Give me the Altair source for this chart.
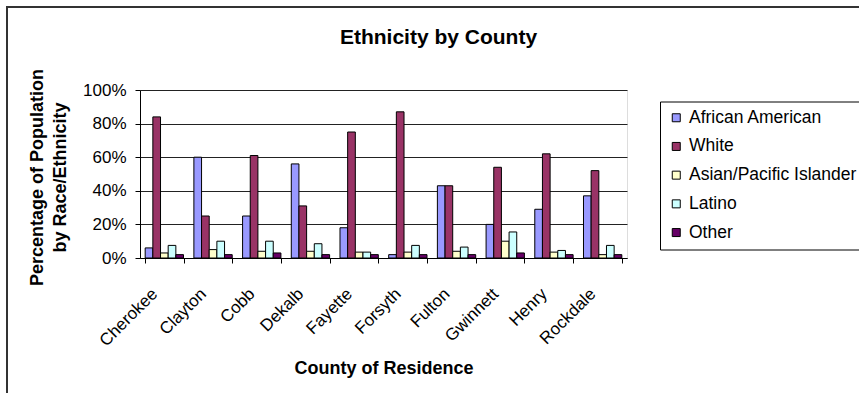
import altair as alt
import pandas as pd

counties = ["Cherokee", "Clayton", "Cobb", "Dekalb", "Fayette",
            "Forsyth", "Fulton", "Gwinnett", "Henry", "Rockdale"]
groups = ["African American", "White", "Asian/Pacific Islander", "Latino", "Other"]
colors = ["#9999FF", "#993366", "#FFFFCC", "#CCFFFF", "#660066"]

# Percent of residents in each group, one list per group (same order as counties)
african_american = [6, 60, 25, 56, 18, 2, 43, 20, 29, 37]
white = [84, 25, 61, 31, 75, 87, 43, 54, 62, 52]
asian_pacific = [3, 5, 4, 4, 3.5, 3.5, 4, 10, 3.5, 2]
latino = [7.5, 10, 10, 8.5, 3.5, 7.5, 6.5, 15.5, 4.5, 7.5]
other = [2, 2, 3, 2, 2, 2, 2, 3, 2, 2]

series = [african_american, white, asian_pacific, latino, other]
rows = []
for g, vals in zip(groups, series):
    for c, v in zip(counties, vals):
        rows.append({"County": c, "Group": g, "Share": v})
df = pd.DataFrame(rows)

FONT = "Liberation Sans"
W, H = 487, 168

bars = alt.Chart(df).mark_bar(stroke="black", strokeWidth=1).encode(
    x=alt.X(
        "County:N",
        sort=counties,
        scale=alt.Scale(paddingInner=0.213, paddingOuter=0.1065),
        axis=alt.Axis(
            title="County of Residence",
            titleFont=FONT, titleFontSize=18, titleFontWeight="bold", titleColor="black",
            titleX=W / 2, titleY=115, titleBaseline="alphabetic", titleAlign="center",
            labelFont=FONT, labelFontSize=17, labelColor="black",
            labelAngle=-45, labelAlign="right", labelBaseline="middle",
            labelPadding=28, labelOffset=-10,
            domainColor="black", tickColor="black", tickSize=5,
            tickBand="extent",
        ),
    ),
    xOffset=alt.XOffset("Group:N", sort=groups,
                        scale=alt.Scale(paddingInner=0, paddingOuter=0)),
    y=alt.Y(
        "Share:Q",
        scale=alt.Scale(domain=[0, 100]),
        axis=alt.Axis(
            title=["Percentage of Population", "by Race/Ethnicity"],
            titleFont=FONT, titleFontSize=18, titleFontWeight="bold", titleColor="black",
            titleX=-112, titleY=H / 2 + 3, titleAngle=270, titleAlign="center",
            titleBaseline="top", titleLineHeight=23,
            values=[0, 20, 40, 60, 80, 100],
            labelExpr="datum.value + '%'",
            labelFont=FONT, labelFontSize=17, labelColor="black", labelPadding=9,
            domainColor="black", tickColor="black", tickSize=5,
            grid=True, gridColor="#222222", gridWidth=1,
        ),
    ),
    color=alt.Color(
        "Group:N",
        sort=groups,
        scale=alt.Scale(domain=groups, range=colors),
        legend=alt.Legend(
            title=None, orient="none", legendX=520, legendY=11.5,
            labelFont=FONT, labelFontSize=17.5, labelColor="black", labelLimit=400,
            symbolType="square", symbolSize=64,
            symbolStrokeColor="black", symbolStrokeWidth=1, symbolOpacity=1,
            fillColor="white", strokeColor="black",
            padding=7.5, rowPadding=9.7, labelOffset=4,
        ),
    ),
)

# Outer frame around the whole chart area
frame = alt.Chart(pd.DataFrame({"k": [0]})).mark_rect(
    fill=None, stroke="#333333", strokeWidth=2
).encode(
    x=alt.value(-133), x2=alt.value(800),
    y=alt.value(-83), y2=alt.value(330),
)

chart = alt.layer(frame, bars).properties(
    width=W, height=H,
    autosize="none",
    padding={"left": 140, "top": 90, "right": 232, "bottom": 135},
    title=alt.TitleParams(
        "Ethnicity by County", font=FONT, fontSize=21, fontWeight="bold",
        color="black", anchor="middle", dx=55, offset=-59, baseline="alphabetic",
    ),
).configure_view(
    fill="#C0C0C0", stroke="#808080", strokeWidth=1
).configure(background="white")

chart.save("out.html", embed_options={"renderer": "svg", "actions": False})
